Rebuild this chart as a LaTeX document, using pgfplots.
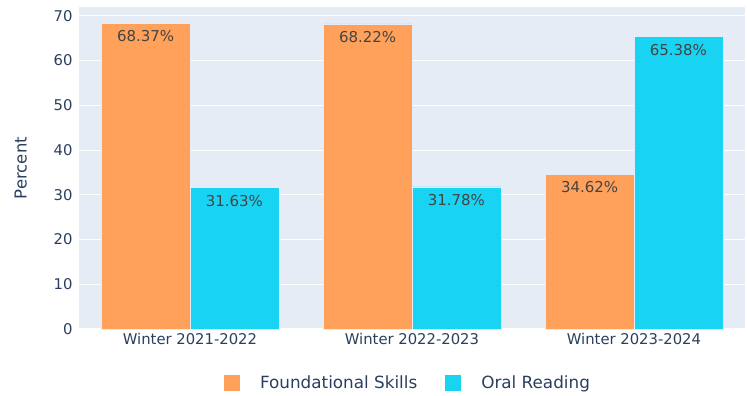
\documentclass[border=0pt]{standalone}
\usepackage{fontspec}
\setmainfont{DejaVu Sans}
\usepackage{pgfplots}
\pgfplotsset{compat=1.18}
\definecolor{bgblue}{HTML}{E5ECF6}
\definecolor{barorange}{HTML}{FFA15A}
\definecolor{barcyan}{HTML}{19D3F3}
\definecolor{textblue}{HTML}{2A3F5F}
\definecolor{labelgray}{HTML}{444444}
\begin{document}
\begin{tikzpicture}
\begin{axis}[
  scale only axis,
  width=666pt, height=322pt,
  xmin=-0.5, xmax=2.5,
  ymin=0, ymax=71.97,
  axis background/.style={fill=bgblue},
  axis line style={draw=none},
  major tick length=0pt,
  xtick={0,1,2},
  xticklabels={Winter 2021-2022, Winter 2022-2023, Winter 2023-2024},
  ytick={0,10,...,70},
  ymajorgrids,
  grid style={white, line width=1pt},
  tick label style={font=\fontsize{14.8}{17}\selectfont, text=textblue},
  /pgf/number format/assume math mode=true,
  xticklabel style={yshift=-1pt},
  yticklabel style={xshift=-3pt},
  ylabel={Percent},
  ylabel style={font=\fontsize{16.5}{19}\selectfont, text=textblue, at={(ticklabel cs:0.5)}, yshift=20pt},
  ybar,
  bar width=0.4,
  nodes near coords={\pgfmathprintnumber[fixed, fixed zerofill, precision=2]{\pgfplotspointmeta}\%},
  every node near coord/.append style={anchor=north, yshift=-4pt, font=\fontsize{15}{18}\selectfont, text=labelgray},
  legend columns=2,
  legend style={draw=none, fill=none, at={(0.494,-0.168)}, anchor=center,
    font=\fontsize{16.8}{19}\selectfont, text=textblue,
    /tikz/every even column/.append style={column sep=26pt}},
  legend image code/.code={\fill[#1, draw=none] (0pt,-8pt) rectangle (16pt,8pt);},
  clip=false,
]
\addplot[fill=barorange, draw=bgblue, line width=0.5pt, bar shift=-0.2]
  coordinates {(0,68.37) (1,68.22) (2,34.62)};
\addlegendentry{\hspace{18pt}Foundational Skills}
\addplot[fill=barcyan, draw=bgblue, line width=0.5pt, bar shift=0.2]
  coordinates {(0,31.63) (1,31.78) (2,65.38)};
\addlegendentry{\hspace{18pt}Oral Reading}
\end{axis}
\path[use as bounding box] (-79pt,-67pt) rectangle (668pt,329pt);
\end{tikzpicture}
\end{document}
